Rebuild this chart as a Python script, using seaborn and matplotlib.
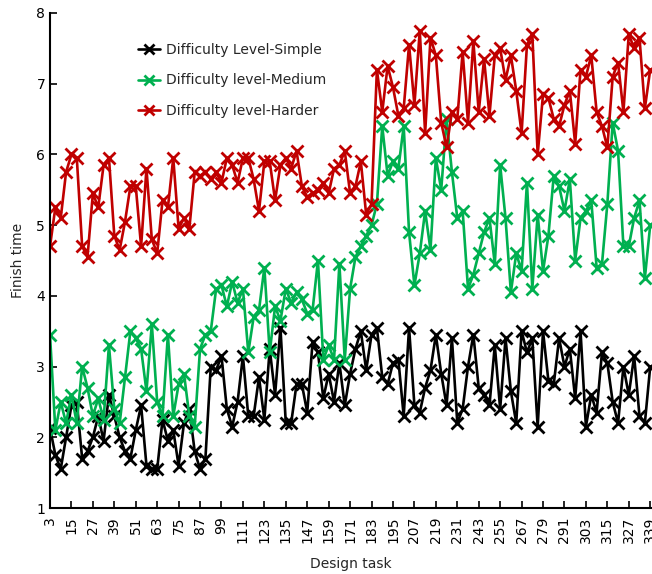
import numpy as np
import pandas as pd
import matplotlib
matplotlib.use("Agg")
import matplotlib.pyplot as plt
import seaborn as sns

tasks = list(range(3, 342, 3))

simple = [2.13, 1.75, 1.55, 2.0, 2.45, 2.5, 1.7, 1.8, 2.0, 2.3,
          1.95, 2.6, 2.3, 2.0, 1.8, 1.7, 2.1, 2.45, 1.6, 1.55,
          1.55, 2.25, 1.95, 2.1, 1.6, 2.2, 2.4, 1.8, 1.55, 1.7,
          3.0, 2.95, 3.15, 2.4, 2.15, 2.5, 3.15, 2.3, 2.3, 2.85,
          2.25, 3.25, 2.6, 3.55, 2.2, 2.2, 2.75, 2.75, 2.35, 3.35,
          3.2, 2.55, 2.9, 2.5, 3.05, 2.45, 2.9, 3.25, 3.5, 2.95,
          3.45, 3.55, 2.85, 2.75, 3.05, 3.1, 2.3, 3.55, 2.45, 2.35,
          2.7, 2.95, 3.45, 2.9, 2.45, 3.4, 2.2, 2.4, 3.0, 3.45,
          2.7, 2.6, 2.45, 3.3, 2.4, 3.4, 2.65, 2.2, 3.5, 3.2,
          3.4, 2.15, 3.5, 2.8, 2.75, 3.4, 3.0, 3.25, 2.55, 3.5,
          2.15, 2.6, 2.35, 3.2, 3.05, 2.5, 2.2, 3.0, 2.6, 3.15,
          2.3, 2.2, 3.0]

medium = [3.45, 2.1, 2.5, 2.2, 2.6, 2.2, 3.0, 2.7, 2.3, 2.55,
          2.25, 3.3, 2.4, 2.2, 2.85, 3.5, 3.4, 3.25, 2.65, 3.6,
          2.5, 2.3, 3.45, 2.3, 2.75, 2.9, 2.3, 2.15, 3.25, 3.45,
          3.5, 4.1, 4.15, 3.85, 4.2, 3.9, 4.1, 3.2, 3.7, 3.8,
          4.4, 3.2, 3.85, 3.65, 4.1, 3.9, 4.05, 3.95, 3.75, 3.8,
          4.5, 3.1, 3.3, 3.1, 4.45, 3.1, 4.1, 4.55, 4.7, 4.85,
          5.0, 5.3, 6.4, 5.7, 5.9, 5.8, 6.4, 4.9, 4.15, 4.6,
          5.2, 4.65, 5.95, 5.5, 6.5, 5.75, 5.1, 5.2, 4.1, 4.3,
          4.6, 4.9, 5.1, 4.45, 5.85, 5.1, 4.05, 4.6, 4.35, 5.6,
          4.1, 5.15, 4.35, 4.85, 5.7, 5.55, 5.2, 5.65, 4.5, 5.1,
          5.2, 5.35, 4.4, 4.45, 5.3, 6.45, 6.05, 4.7, 4.7, 5.1,
          5.35, 4.25, 5.0]

harder = [4.7, 5.25, 5.1, 5.75, 6.0, 5.95, 4.7, 4.55, 5.45, 5.25,
          5.85, 5.95, 4.85, 4.65, 5.05, 5.55, 5.55, 4.7, 5.8, 4.8,
          4.6, 5.35, 5.25, 5.95, 4.95, 5.1, 4.95, 5.75, 5.7, 5.75,
          5.65, 5.75, 5.6, 5.95, 5.85, 5.6, 5.95, 5.95, 5.65, 5.2,
          5.9, 5.9, 5.35, 5.85, 5.95, 5.8, 6.05, 5.55, 5.4, 5.45,
          5.5, 5.6, 5.45, 5.8, 5.85, 6.05, 5.45, 5.55, 5.9, 5.15,
          5.3, 7.2, 6.6, 7.25, 6.95, 6.55, 6.65, 7.55, 6.7, 7.75,
          6.3, 7.65, 7.4, 6.45, 6.1, 6.6, 6.5, 7.45, 6.45, 7.6,
          6.6, 7.35, 6.55, 7.4, 7.5, 7.05, 7.4, 6.9, 6.3, 7.55,
          7.7, 6.0, 6.85, 6.8, 6.5, 6.4, 6.7, 6.9, 6.15, 7.2,
          7.1, 7.4, 6.6, 6.4, 6.1, 7.1, 7.3, 6.6, 7.7, 7.5,
          7.65, 6.65, 7.2]

series_names = ["Difficulty Level-Simple", "Difficulty level-Medium", "Difficulty level-Harder"]
series_colors = ["#000000", "#00B050", "#C00000"]
tick_labels = list(range(3, 340, 12))

sns.set_style("ticks")
plt.rcParams["font.family"] = ["DejaVu Sans"]

fig = plt.figure(figsize=(6.52, 5.74), dpi=100)
ax = fig.add_axes([50 / 652, 66 / 574, 602 / 652, 495 / 574])

for name, vals, col in zip(series_names, [simple, medium, harder], series_colors):
    df = pd.DataFrame({"task": tasks, "time": vals})
    sns.lineplot(data=df, x="task", y="time", ax=ax, color=col, linewidth=1.9,
                 marker="x", markersize=9, markeredgewidth=2.0,
                 markeredgecolor=col, label=name)

ax.set_xlim(3, 340)
ax.set_ylim(1, 8)
ax.set_xticks(tick_labels)
ax.set_xticklabels([str(t) for t in tick_labels], rotation=90, fontsize=10)
ax.set_yticks(range(1, 9))
ax.tick_params(axis="both", direction="in", length=5, width=1.2, labelsize=10, colors="black")
ax.tick_params(axis="x", pad=6)
ax.set_xlabel("Design task", fontsize=10, labelpad=10)
ax.set_ylabel("Finish time", fontsize=10, labelpad=8)
for s in ["top", "right"]:
    ax.spines[s].set_visible(False)
for s in ["left", "bottom"]:
    ax.spines[s].set_color("black")
    ax.spines[s].set_linewidth(1.5)

leg = ax.legend(loc="upper left", bbox_to_anchor=(0.125, 0.965), frameon=False,
                fontsize=10, handlelength=1.6, labelspacing=1.2, handletextpad=0.4)
for h in leg.legend_handles:
    h.set_markersize(7)

fig.savefig("out.png", dpi=100)
